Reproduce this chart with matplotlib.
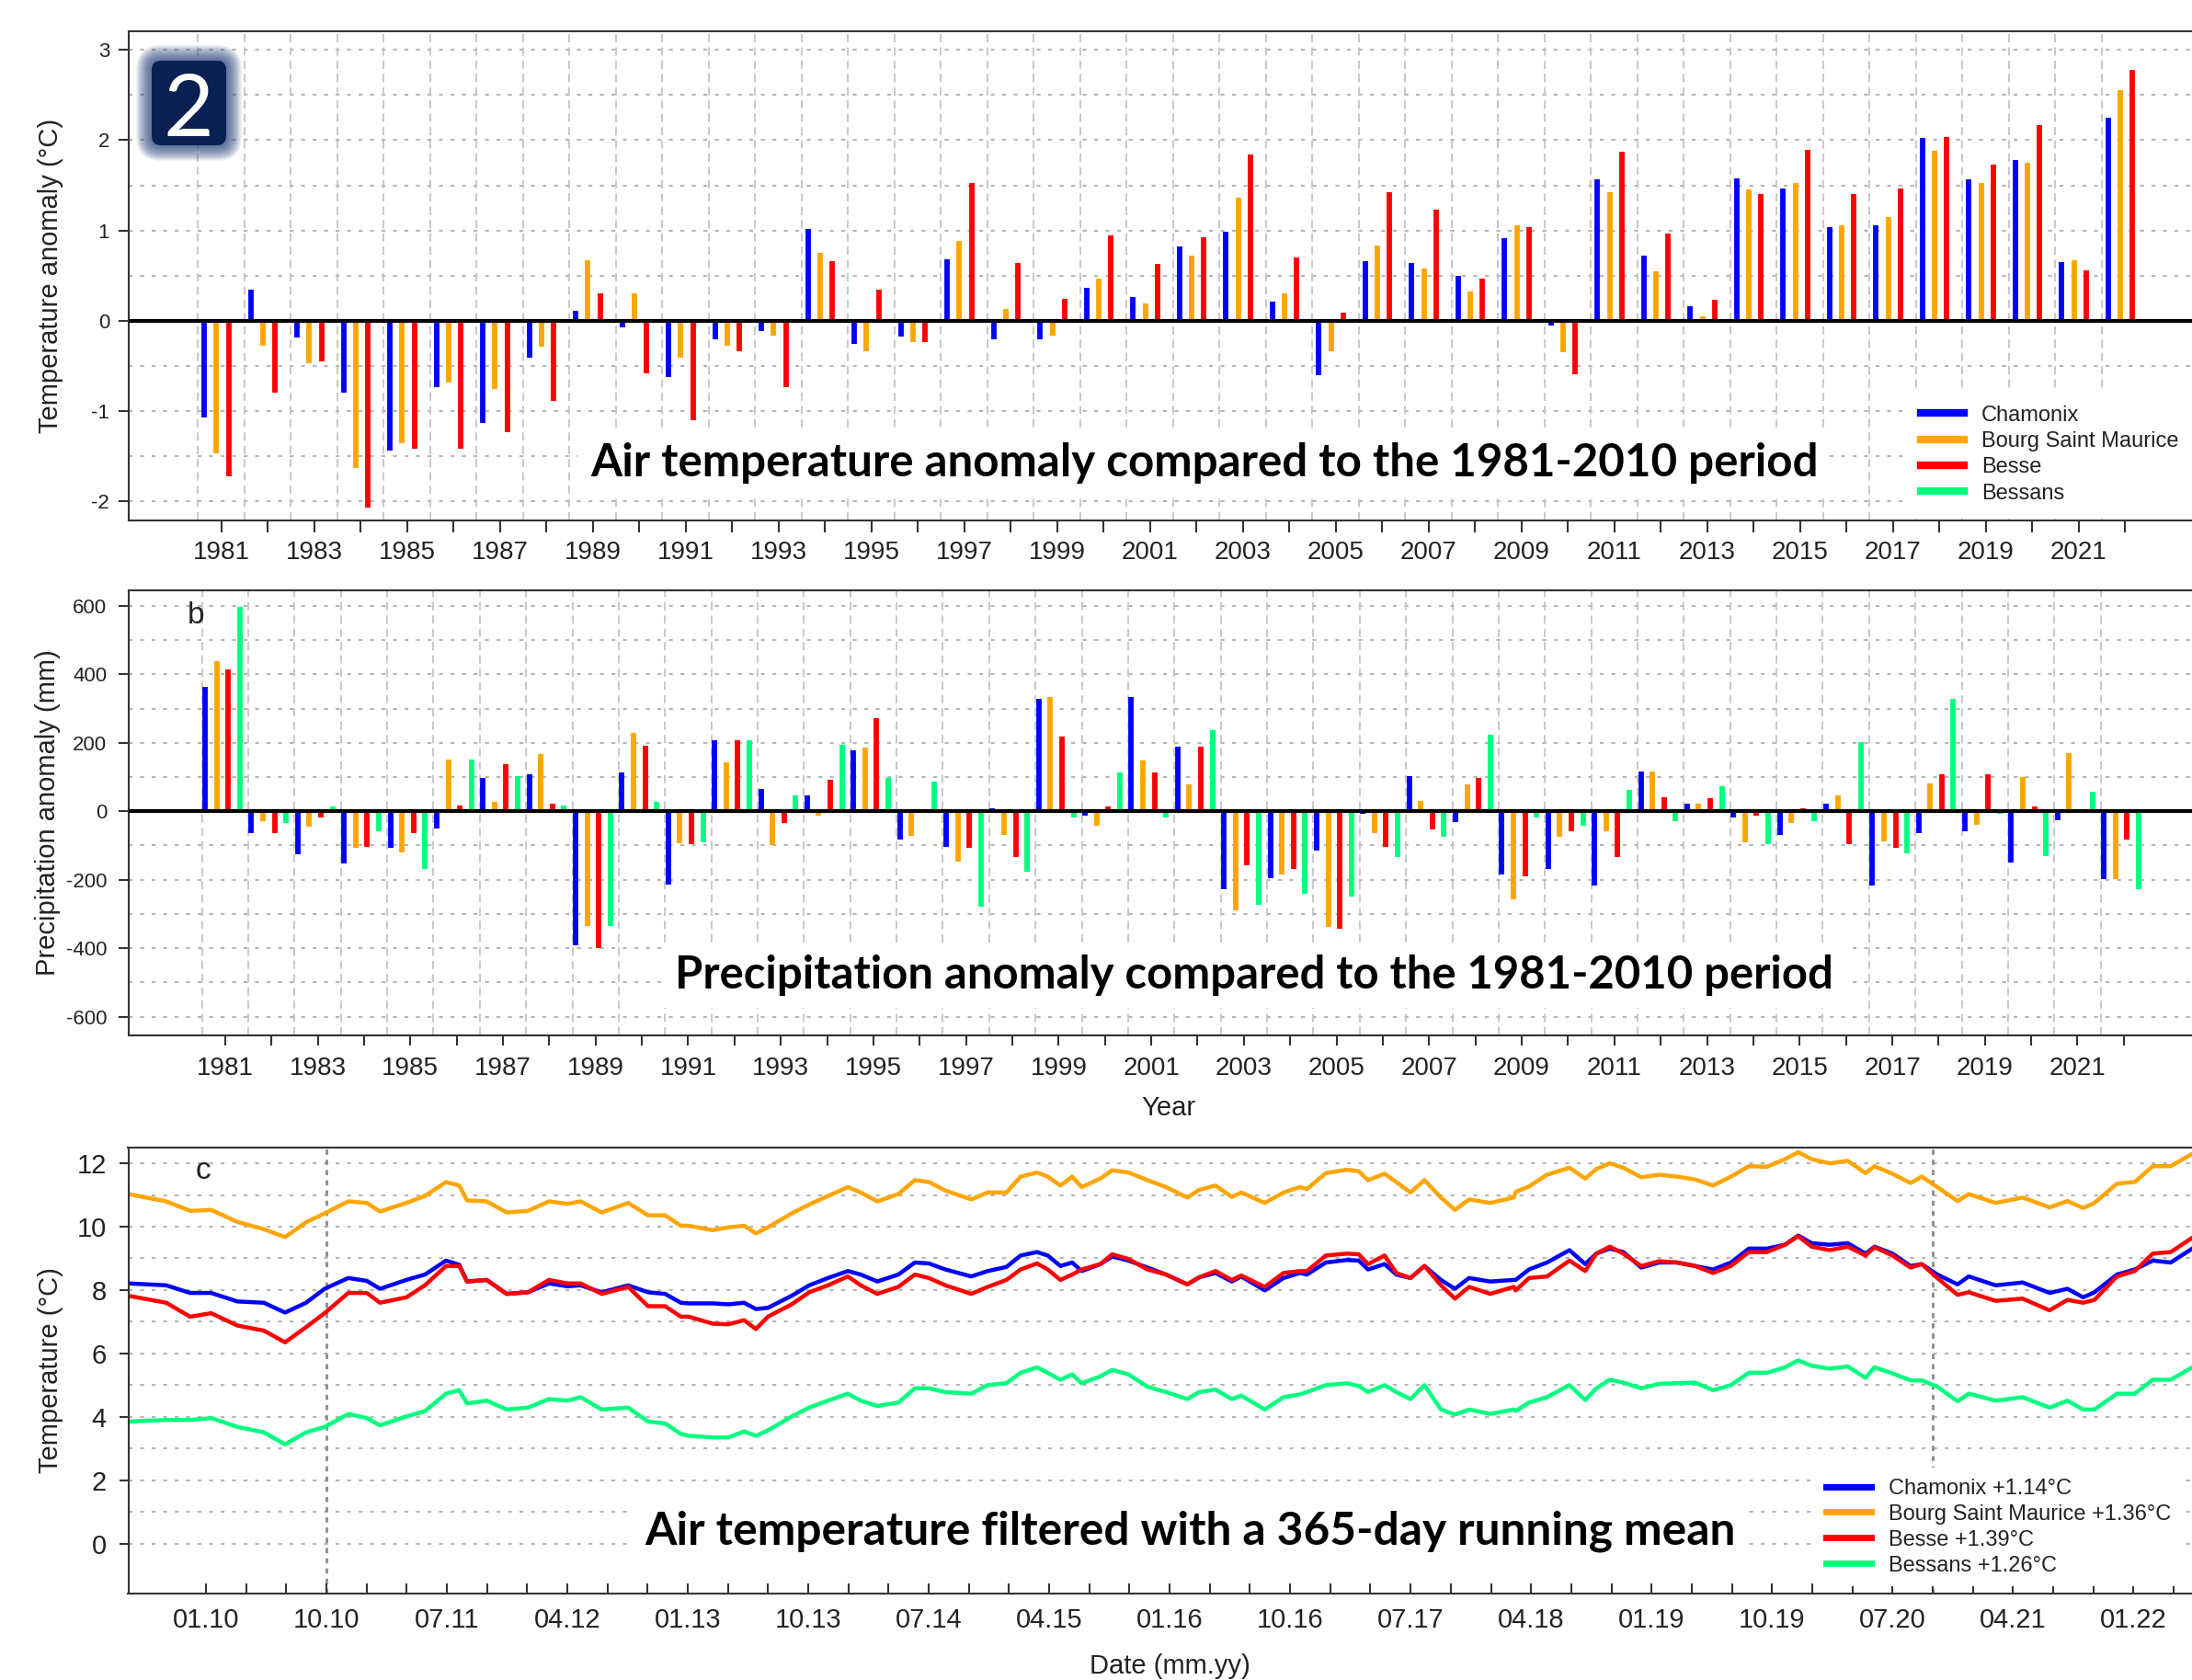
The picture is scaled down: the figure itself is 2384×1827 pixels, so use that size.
import numpy as np
import matplotlib
matplotlib.use("Agg")
import matplotlib.pyplot as plt
from matplotlib.patches import FancyBboxPatch
from matplotlib.lines import Line2D
from matplotlib.transforms import IdentityTransform

# ============================================================
# Data
# ============================================================
stations = ["Chamonix", "Bourg Saint Maurice", "Besse", "Bessans"]
station_colors = ["#0000ff", "#ffa500", "#ff0000", "#00ff7f"]

years = np.arange(1981, 2023)

# (a) annual air temperature anomaly (degC) vs 1981-2010
temp_chamonix = [-1.07, 0.35, -0.18, -0.79, -1.44, -0.73, -1.13, -0.41, 0.11, -0.07,
                 -0.62, -0.20, -0.11, 1.02, -0.26, -0.17, 0.68, -0.20, -0.20, 0.37,
                 0.26, 0.82, 0.99, 0.21, -0.60, 0.66, 0.64, 0.50, 0.92, -0.05,
                 1.57, 0.72, 0.16, 1.58, 1.47, 1.04, 1.06, 2.03, 1.57, 1.78,
                 0.65, 2.25]
temp_bsm = [-1.47, -0.28, -0.47, -1.63, -1.35, -0.68, -0.75, -0.29, 0.67, 0.30,
            -0.41, -0.28, -0.16, 0.75, -0.34, -0.24, 0.88, 0.13, -0.16, 0.47,
            0.19, 0.72, 1.36, 0.30, -0.34, 0.83, 0.58, 0.32, 1.06, -0.35,
            1.42, 0.55, 0.05, 1.45, 1.53, 1.06, 1.15, 1.88, 1.53, 1.75,
            0.67, 2.55]
temp_besse = [-1.72, -0.79, -0.45, -2.07, -1.42, -1.42, -1.23, -0.89, 0.30, -0.58,
              -1.10, -0.34, -0.73, 0.66, 0.35, -0.23, 1.53, 0.64, 0.24, 0.95,
              0.63, 0.93, 1.84, 0.70, 0.09, 1.42, 1.23, 0.47, 1.04, -0.59,
              1.87, 0.97, 0.23, 1.40, 1.89, 1.40, 1.47, 2.04, 1.73, 2.17,
              0.56, 2.78]

# (b) annual precipitation anomaly (mm) vs 1981-2010
prec_chamonix = [364, -64, -125, -153, -108, -50, 98, 109, -392, 114,
                 -213, 208, 66, 47, 178, -83, -104, 8, 329, -13,
                 333, 188, -229, -195, -115, -7, 102, -32, -184, -168,
                 -218, 116, 22, -18, -68, 21, -218, -64, -58, -149,
                 -27, -198]
prec_bsm = [438, -30, -45, -108, -119, 151, 27, 167, -334, 228,
            -94, 142, -99, -13, 187, -73, -148, -68, 333, -43,
            147, 78, -289, -184, -338, -64, 29, 78, -258, -74,
            -59, 116, 22, -90, -34, 47, -88, 82, -41, 100,
            171, -198]
prec_besse = [414, -64, -19, -104, -64, 17, 138, 21, -399, 192,
              -97, 208, -34, 91, 273, 0, -108, -134, 217, 13,
              114, 188, -159, -168, -343, -104, -54, 96, -189, -59,
              -134, 42, 38, -13, 8, -97, -108, 107, 107, 15,
              0, -83]
prec_bessans = [597, -34, 13, -59, -168, 151, 102, 17, -334, 27,
                -92, 208, 47, 194, 98, 87, -278, -177, -18, 114,
                -18, 237, -274, -240, -249, -134, -74, 223, -19, -43,
                62, -28, 72, -97, -28, 201, -124, 327, -7, -132,
                57, -228]

# (c) 365-day running mean of air temperature (degC), time in decimal years
run_time = [2009.517, 2009.753, 2009.902, 2010.033, 2010.197, 2010.361, 2010.493, 2010.624,
            2010.739, 2010.887, 2011.002, 2011.084, 2011.248, 2011.364, 2011.495, 2011.577,
            2011.626, 2011.748, 2011.873, 2012.005, 2012.136, 2012.251, 2012.333, 2012.464,
            2012.629, 2012.753, 2012.859, 2012.957, 2013.006, 2013.155, 2013.253, 2013.351,
            2013.424, 2013.499, 2013.647,
            2013.756, 2013.873, 2013.996, 2014.077, 2014.180, 2014.311, 2014.414, 2014.501,
            2014.604, 2014.765, 2014.867, 2014.984, 2015.072, 2015.174, 2015.241, 2015.320,
            2015.393, 2015.452, 2015.569, 2015.642, 2015.744, 2015.861, 2015.978, 2016.110,
            2016.183, 2016.285, 2016.387, 2016.446, 2016.592, 2016.709, 2016.811, 2016.855,
            2016.972, 2017.104, 2017.177, 2017.235, 2017.338, 2017.411, 2017.499, 2017.586,
            2017.689, 2017.776, 2017.864, 2017.996, 2018.142,
            2018.154, 2018.237, 2018.349, 2018.489, 2018.587, 2018.656, 2018.740, 2018.824,
            2018.936, 2019.047, 2019.159, 2019.271, 2019.383, 2019.494, 2019.606, 2019.718,
            2019.830, 2019.913, 2019.997, 2020.109, 2020.221, 2020.332, 2020.388, 2020.500,
            2020.612, 2020.682, 2020.779, 2020.905, 2020.975, 2021.142, 2021.310, 2021.478,
            2021.589, 2021.687, 2021.757, 2021.897, 2022.008, 2022.120, 2022.232, 2022.366]
run_chamonix = [8.21, 8.15, 7.91, 7.91, 7.64, 7.60, 7.29, 7.60, 8.04, 8.38, 8.29, 8.04,
                8.32, 8.49, 8.93, 8.80, 8.27, 8.32, 7.88, 7.93, 8.21, 8.12, 8.15, 7.93,
                8.15, 7.93, 7.88, 7.60, 7.58, 7.58, 7.55, 7.60, 7.40, 7.44, 7.82,
                8.15, 8.38, 8.60, 8.49, 8.27, 8.49, 8.87, 8.84, 8.65, 8.43, 8.60, 8.73,
                9.09, 9.20, 9.09, 8.76, 8.87, 8.60, 8.82, 9.06, 8.93, 8.71, 8.49, 8.18,
                8.40, 8.54, 8.27, 8.43, 7.99, 8.38, 8.54, 8.49, 8.87, 8.95, 8.93, 8.65,
                8.82, 8.49, 8.38, 8.76, 8.32, 8.04, 8.38, 8.27, 8.32,
                8.32, 8.65, 8.87, 9.26, 8.82, 9.15, 9.31, 9.20, 8.71, 8.87, 8.87, 8.76,
                8.65, 8.87, 9.31, 9.31, 9.43, 9.72, 9.48, 9.43, 9.48, 9.15, 9.37, 9.15,
                8.76, 8.82, 8.49, 8.18, 8.43, 8.15, 8.24, 7.91, 8.04, 7.77, 7.93, 8.49,
                8.65, 8.93, 8.87, 9.31]
run_bsm = [11.03, 10.80, 10.50, 10.53, 10.15, 9.92, 9.67, 10.14, 10.42, 10.80, 10.75, 10.48,
           10.75, 10.97, 11.41, 11.30, 10.83, 10.80, 10.45, 10.50, 10.80, 10.72, 10.80, 10.45,
           10.75, 10.36, 10.36, 10.03, 10.03, 9.89, 9.98, 10.03, 9.79, 9.98, 10.42,
           10.70, 10.97, 11.25, 11.08, 10.80, 11.03, 11.47, 11.41, 11.14, 10.86, 11.08, 11.08,
           11.58, 11.71, 11.58, 11.30, 11.58, 11.25, 11.52, 11.78, 11.71, 11.47, 11.25, 10.92,
           11.16, 11.30, 10.94, 11.08, 10.75, 11.08, 11.25, 11.19, 11.69, 11.80, 11.75, 11.47,
           11.67, 11.41, 11.08, 11.47, 10.92, 10.53, 10.86, 10.75, 10.92,
           11.10, 11.27, 11.64, 11.86, 11.52, 11.82, 12.00, 11.86, 11.56, 11.64, 11.58, 11.49,
           11.30, 11.58, 11.91, 11.89, 12.13, 12.35, 12.13, 12.00, 12.08, 11.69, 11.91, 11.67,
           11.38, 11.58, 11.25, 10.81, 11.03, 10.75, 10.92, 10.61, 10.81, 10.59, 10.75, 11.36,
           11.41, 11.91, 11.91, 12.30]
run_besse = [7.82, 7.60, 7.16, 7.27, 6.88, 6.72, 6.35, 6.83, 7.27, 7.91, 7.91, 7.60,
             7.77, 8.15, 8.76, 8.76, 8.27, 8.32, 7.88, 7.93, 8.32, 8.21, 8.21, 7.88,
             8.10, 7.49, 7.49, 7.16, 7.16, 6.94, 6.92, 7.05, 6.77, 7.16, 7.55,
             7.93, 8.15, 8.43, 8.15, 7.88, 8.10, 8.49, 8.38, 8.15, 7.88, 8.10, 8.32,
             8.65, 8.84, 8.65, 8.32, 8.49, 8.65, 8.82, 9.13, 8.98, 8.65, 8.49, 8.18,
             8.40, 8.60, 8.32, 8.46, 8.10, 8.54, 8.60, 8.60, 9.09, 9.15, 9.13, 8.82,
             9.09, 8.54, 8.38, 8.76, 8.15, 7.73, 8.10, 7.88, 8.10,
             7.99, 8.38, 8.43, 8.93, 8.60, 9.15, 9.37, 9.15, 8.76, 8.91, 8.87, 8.76,
             8.54, 8.76, 9.20, 9.20, 9.43, 9.70, 9.37, 9.26, 9.37, 9.09, 9.35, 9.09,
             8.71, 8.82, 8.38, 7.85, 7.93, 7.66, 7.73, 7.36, 7.69, 7.60, 7.69, 8.43,
             8.60, 9.15, 9.20, 9.65]
run_bessans = [3.85, 3.90, 3.90, 3.96, 3.68, 3.51, 3.13, 3.51, 3.68, 4.09, 3.96, 3.73,
               4.01, 4.18, 4.73, 4.84, 4.42, 4.51, 4.23, 4.29, 4.56, 4.51, 4.62, 4.23,
               4.29, 3.85, 3.79, 3.46, 3.40, 3.35, 3.35, 3.54, 3.40, 3.57, 4.01,
               4.29, 4.51, 4.73, 4.51, 4.34, 4.45, 4.90, 4.90, 4.78, 4.73, 5.00, 5.06,
               5.39, 5.56, 5.39, 5.17, 5.34, 5.06, 5.28, 5.48, 5.34, 4.95, 4.78, 4.56,
               4.78, 4.86, 4.56, 4.67, 4.23, 4.62, 4.71, 4.78, 5.00, 5.06, 4.97, 4.78,
               5.00, 4.78, 4.56, 5.00, 4.23, 4.07, 4.23, 4.09, 4.23,
               4.18, 4.45, 4.62, 5.00, 4.53, 4.90, 5.17, 5.08, 4.90, 5.04, 5.06, 5.08,
               4.84, 5.00, 5.39, 5.39, 5.56, 5.78, 5.61, 5.52, 5.59, 5.23, 5.56, 5.37,
               5.15, 5.15, 4.95, 4.49, 4.73, 4.51, 4.62, 4.29, 4.51, 4.23, 4.23, 4.73,
               4.73, 5.17, 5.17, 5.56]
run_labels = ["Chamonix +1.14°C", "Bourg Saint Maurice +1.36°C",
              "Besse +1.39°C", "Bessans +1.26°C"]

# ============================================================
# Figure set-up (pixel based layout, 100 dpi)
# ============================================================
W, H = 2384, 1827
plt.rcParams["font.family"] = ["Liberation Sans", "DejaVu Sans"]
plt.rcParams["axes.unicode_minus"] = False
TXT = "#222222"

fig = plt.figure(figsize=(W / 100, H / 100), dpi=100)


def add_ax(left, top, right, bottom):
    # axes given in image pixels (origin top-left)
    return fig.add_axes([left / W, 1 - bottom / H, (right - left) / W, (bottom - top) / H])


def frame(ax):
    for s in ax.spines.values():
        s.set_color("#333333")
        s.set_linewidth(1.5)


hgrid = dict(color="#b5b5b5", lw=1.5, ls=(0, (2, 4)), zorder=0)
vgrid = dict(color="#c4c4c4", lw=1.3, ls=(0, (5, 3)), zorder=0)

# ============================================================
# Panel a : temperature anomaly
# ============================================================
ax1 = add_ax(140, 33.6, 2400, 566)
frame(ax1)
ax1.set_xlim(1979.01, 2023.76)
ax1.set_ylim(-2.21, 3.21)
for v in np.arange(-2, 3.01, 0.5):
    ax1.axhline(v, **hgrid)
for yr in years:
    ax1.axvline(yr - 0.5, **vgrid)

offsets_a = [-0.36, -0.10, 0.16]
for vals, c, off in zip([temp_chamonix, temp_bsm, temp_besse], station_colors, offsets_a):
    ax1.vlines(years + off, 0, vals, colors=c, lw=4.2, capstyle="butt", zorder=2)
ax1.axhline(0, color="black", lw=3, zorder=3)

ax1.set_xticks(years)
ax1.set_xticklabels([str(y) if y % 2 == 1 else "" for y in years])
ax1.set_yticks(np.arange(-2, 4))
ax1.tick_params(axis="x", direction="out", length=9, width=1.5, labelsize=20,
                pad=7, colors="#333333", labelcolor=TXT)
ax1.tick_params(axis="y", direction="out", length=8, width=1.5, labelsize=16,
                pad=7, colors="#333333", labelcolor=TXT)

handles = [Line2D([], [], color=c, lw=6) for c in station_colors]
ax1.legend(handles, stations, loc="upper left", bbox_to_anchor=(2072 / W, 1 - 424 / H),
           bbox_transform=fig.transFigure, frameon=True, facecolor="white",
           edgecolor="none", framealpha=1, fancybox=False, fontsize=17,
           borderpad=0.7, handlelength=2.0, handletextpad=0.8, labelspacing=0.27,
           borderaxespad=0, labelcolor=TXT)

# ============================================================
# Panel b : precipitation anomaly
# ============================================================
ax2 = add_ax(140, 641.7, 2400, 1125.7)
frame(ax2)
ax2.set_xlim(1978.92, 2023.79)
ax2.set_ylim(-654, 646)
for v in np.arange(-600, 601, 100):
    ax2.axhline(v, **hgrid)
for yr in years:
    ax2.axvline(yr - 0.5, **vgrid)

offsets_b = [-0.43, -0.18, 0.07, 0.32]
for vals, c, off in zip([prec_chamonix, prec_bsm, prec_besse, prec_bessans],
                        station_colors, offsets_b):
    ax2.vlines(years + off, 0, vals, colors=c, lw=4.2, capstyle="butt", zorder=2)
ax2.axhline(0, color="black", lw=3, zorder=3)

ax2.set_xticks(years)
ax2.set_xticklabels([str(y) if y % 2 == 1 else "" for y in years])
ax2.set_yticks(np.arange(-600, 601, 200))
ax2.tick_params(axis="x", direction="out", length=8, width=1.5, labelsize=20,
                pad=9, colors="#333333", labelcolor=TXT)
ax2.tick_params(axis="y", direction="out", length=8, width=1.5, labelsize=16,
                pad=9, colors="#333333", labelcolor=TXT)
ax2.text(213 / W, 1 - 670 / H, "b", transform=fig.transFigure, fontsize=24,
         ha="center", va="center", color=TXT)

# ============================================================
# Panel c : 365-day running mean
# ============================================================
ax3 = add_ax(139.5, 1247.9, 2400, 1732.7)
frame(ax3)
ax3.set_xlim(2009.517, 2022.456)
ax3.set_ylim(-1.57, 12.5)
for v in range(0, 13):
    ax3.axhline(v, **hgrid)
for xv in [2010.75, 2020.75]:
    ax3.axvline(xv, color="#8a8a8a", lw=2, ls=(0, (2, 2)), zorder=1)

for vals, c in zip([run_chamonix, run_bsm, run_besse, run_bessans], station_colors):
    ax3.plot(run_time, vals, color=c, lw=3.2, zorder=2)

q_ticks = [2010 + 0.25 * i for i in range(50)]
q_labels = []
for i in range(50):
    if i % 3 == 0:
        q_labels.append("%02d.%02d" % (1 + 3 * (i % 4), (2010 + i // 4) % 100))
    else:
        q_labels.append("")
ax3.set_xticks(q_ticks)
ax3.set_xticklabels(q_labels)
ax3.set_yticks(range(0, 13, 2))
ax3.tick_params(axis="x", direction="in", length=8, width=1.5, labelsize=21,
                pad=11, colors="#333333", labelcolor=TXT)
ax3.tick_params(axis="y", direction="out", length=7, width=1.5, labelsize=21,
                pad=10, colors="#333333", labelcolor=TXT)

handles3 = [Line2D([], [], color=c, lw=5) for c in station_colors]
ax3.legend(handles3, run_labels, loc="upper left", bbox_to_anchor=(1974 / W, 1 - 1596 / H),
           bbox_transform=fig.transFigure, frameon=True, facecolor="white",
           edgecolor="none", framealpha=1, fancybox=False, fontsize=17,
           borderpad=0.5, handlelength=2.1, handletextpad=0.8, labelspacing=0.25,
           borderaxespad=0, labelcolor=TXT)
ax3.text(221 / W, 1 - 1274 / H, "c", transform=fig.transFigure, fontsize=24,
         ha="center", va="center", color=TXT)

# ============================================================
# Axis labels
# ============================================================
fig.text(55 / W, 1 - 300 / H, "Temperature anomaly (°C)", rotation=90,
         ha="center", va="center", fontsize=21, color=TXT)
fig.text(52 / W, 1 - 884 / H, "Precipitation anomaly (mm)", rotation=90,
         ha="center", va="center", fontsize=21, color=TXT)
fig.text(55 / W, 1 - 1490 / H, "Temperature (°C)", rotation=90,
         ha="center", va="center", fontsize=21, color=TXT)
fig.text(1271 / W, 1 - 1205 / H, "Year", ha="center", va="center", fontsize=21, color=TXT)
fig.text(1272 / W, 1 - 1812 / H, "Date (mm.yy)", ha="center", va="center",
         fontsize=21, color=TXT)

# ============================================================
# Overlaid titles (bold, white box behind)
# ============================================================
title_box = dict(facecolor="white", edgecolor="none", pad=9)
titles = [
    ("Air temperature anomaly compared to the 1981-2010 period", 1309.7, 517.5, 1336),
    ("Precipitation anomaly compared to the 1981-2010 period", 1363.9, 1075, 1260),
    ("Air temperature filtered with a 365-day running mean", 1294, 1679.4, 1186),
]
renderer = fig.canvas.get_renderer()
for txt, xc, yb, width_px in titles:
    t = fig.text(xc / W, 1 - yb / H, txt, ha="center", va="baseline", family="Lato",
                 weight="bold", fontsize=34, color="black", bbox=title_box, zorder=5)
    ext = t.get_window_extent(renderer)
    t.set_fontsize(34 * width_px / ext.width)

# ============================================================
# "2" badge in the top-left corner (soft-edged navy square)
# ============================================================
ident = IdentityTransform()


def badge_rect(x0, y0, x1, y1, r, **kw):
    p = FancyBboxPatch((x0, H - y1), x1 - x0, y1 - y0,
                       boxstyle="round,pad=0,rounding_size=%g" % r,
                       transform=ident, **kw)
    fig.add_artist(p)


for k in range(12, 0, -1):
    e = 1.4 * k
    badge_rect(165 - e, 66 - e, 246 + e, 158 + e, 10 + e,
               facecolor="#1c3a78", edgecolor="none", alpha=0.09, zorder=6)
badge_rect(165, 66, 246, 158, 10, facecolor="#0a1f52", edgecolor="none", zorder=6)
fig.text(204.5 / W, 1 - 148 / H, "2", ha="center", va="baseline", family="Lato",
         fontsize=68, color="white", zorder=7)

fig.savefig("out.png", dpi=100)
